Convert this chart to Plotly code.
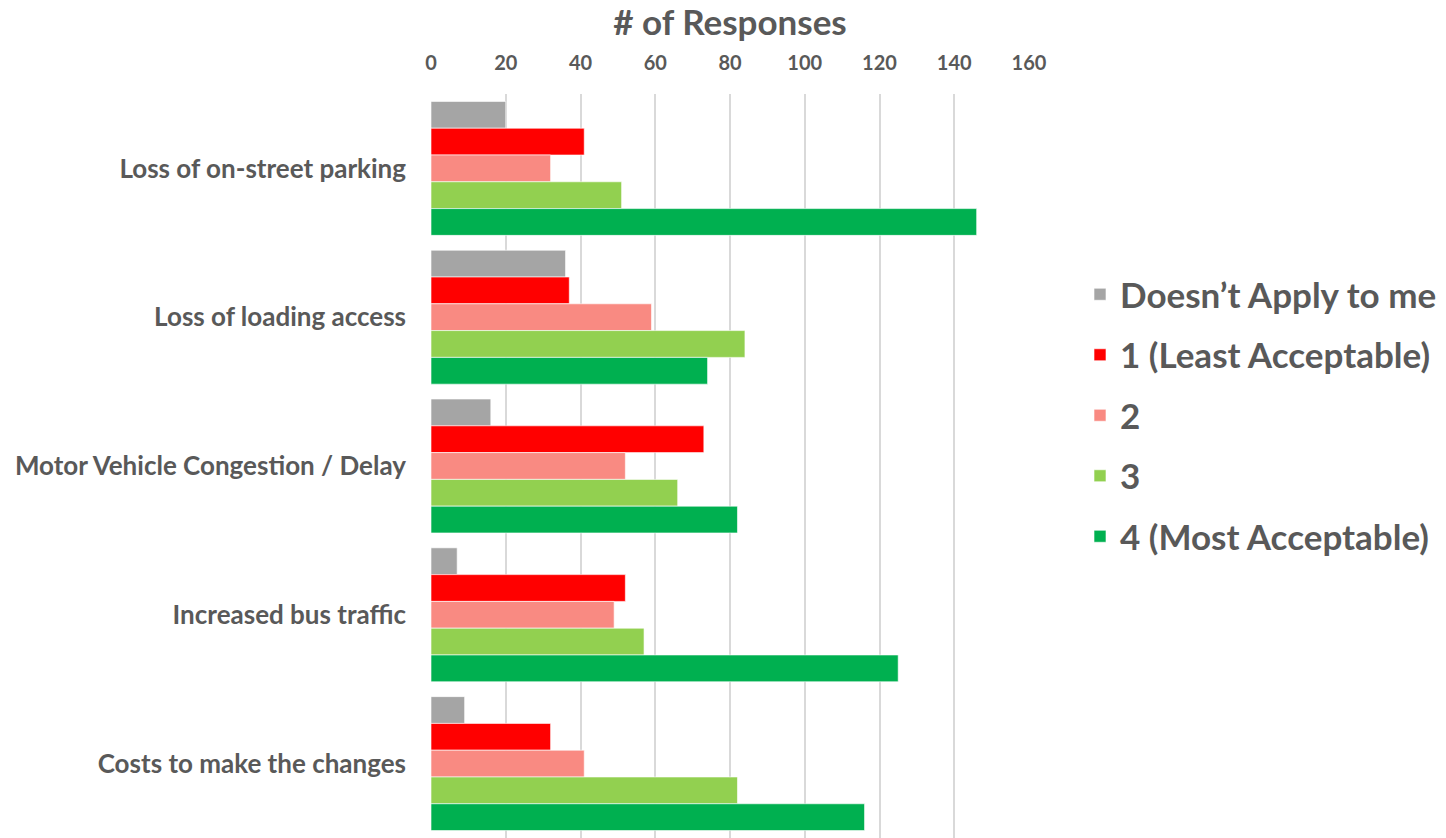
import plotly.graph_objects as go

# Survey concerns (top to bottom) and response counts per rating
categories = [
    "Loss of on-street parking",
    "Loss of loading access",
    "Motor Vehicle Congestion / Delay",
    "Increased bus traffic",
    "Costs to make the changes",
]
series_names = [
    "Doesn’t Apply to me",
    "1 (Least Acceptable)",
    "2",
    "3",
    "4 (Most Acceptable)",
]
doesnt_apply = [20, 36, 16, 7, 9]
rating_1 = [41, 37, 73, 52, 32]
rating_2 = [32, 59, 52, 49, 41]
rating_3 = [51, 84, 66, 57, 82]
rating_4 = [146, 74, 82, 125, 116]
x_ticks = [0, 20, 40, 60, 80, 100, 120, 140, 160]

series_values = [doesnt_apply, rating_1, rating_2, rating_3, rating_4]
colors = ["#A5A5A5", "#FF0000", "#F98A82", "#92D050", "#00B050"]
text_color = "#595959"
font_family = "Lato, 'Open Sans', sans-serif"

fig = go.Figure()
for i, (name, vals, col) in enumerate(zip(series_names, series_values, colors)):
    fig.add_trace(go.Bar(
        y=categories,
        x=vals,
        name=name,
        orientation="h",
        marker=dict(color=col, line=dict(color="rgba(255,255,255,0.6)", width=1)),
        legendgroup=f"g{i}",
    ))

fig.update_layout(
    width=1446,
    height=838,
    barmode="group",
    bargap=0.1,
    bargroupgap=0,
    plot_bgcolor="white",
    paper_bgcolor="white",
    margin=dict(l=431, r=417, t=94, b=0),
    font=dict(family=font_family, color=text_color),
    legend=dict(
        xref="container",
        yref="container",
        x=1080 / 1446,
        y=1 - 265 / 838,
        xanchor="left",
        yanchor="top",
        font=dict(size=35, color=text_color, family=font_family, weight="bold"),
        tracegroupgap=12,
        itemwidth=30,
    ),
    showlegend=True,
)

fig.update_xaxes(
    side="top",
    range=[0, 160],
    tickvals=x_ticks,
    ticktext=[str(v) for v in x_ticks],
    showgrid=True,
    gridcolor="#D9D9D9",
    gridwidth=1.5,
    zeroline=False,
    showline=False,
    ticks="",
    tickfont=dict(size=20, color=text_color, family=font_family, weight="bold"),
    ticklabelstandoff=19,
    title=dict(
        text="# of Responses",
        font=dict(size=35, color=text_color, family=font_family, weight="bold"),
        standoff=8,
    ),
)

fig.update_yaxes(
    categoryorder="array",
    categoryarray=categories,
    autorange="reversed",
    showgrid=False,
    showline=False,
    ticks="",
    tickfont=dict(size=26, color=text_color, family=font_family, weight="bold"),
    ticklabelstandoff=24,
)

fig.write_html("out.html")
